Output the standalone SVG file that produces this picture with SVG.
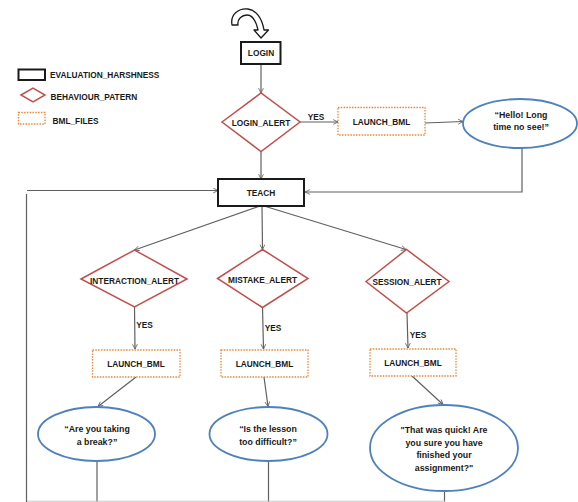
<svg xmlns="http://www.w3.org/2000/svg" width="578" height="502" viewBox="0 0 578 502">
<defs>
<marker id="arr" viewBox="0 0 10 10" refX="9" refY="5" markerWidth="6" markerHeight="6" orient="auto" markerUnits="userSpaceOnUse">
<path d="M1,1 L9,5 L1,9" fill="none" stroke="#606060" stroke-width="1.4"/>
</marker>
<style>
text{font-family:"Liberation Sans",Arial,sans-serif;font-weight:bold;font-size:8.3px;fill:#1a1a1a;text-anchor:middle}
.lg{text-anchor:start}
.mt{font-size:8.8px}
.eh{fill:#fff;stroke:#1a1a1a;stroke-width:2}
.bp{fill:#fff;stroke:#c0504d;stroke-width:1.5}
.bml{fill:#fff;stroke:#e9893b;stroke-width:1.3;stroke-dasharray:1.5 1.3}
.msg{fill:#fff;stroke:#4f81bd;stroke-width:1.8}
.c{fill:none;stroke:#606060;stroke-width:1.2}
.ca{fill:none;stroke:#606060;stroke-width:1.2;marker-end:url(#arr)}
</style>
</defs>
<rect width="578" height="502" fill="#fff"/>

<g id="legend">
<rect class="eh" x="18.5" y="69.5" width="26.5" height="10.5" stroke-width="1.6"/>
<text class="lg" x="50" y="78">EVALUATION_HARSHNESS</text>
<polygon class="bp" points="21,95 33,88 45,95 33,102"/>
<text class="lg" x="50.5" y="100">BEHAVIOUR_PATERN</text>
<rect class="bml" x="18.5" y="112.5" width="26.5" height="11.5"/>
<text class="lg" x="52.5" y="124">BML_FILES</text>
</g>

<g id="start">
<path d="M232,25 C230,14 239,8 248,9 C256,10 262,18 264,30 L268.5,30 L261,38 L254,30 L258,30 C256,21 252,15 247,15 C242,15 237,19 238,25 Z" fill="#fff" stroke="#1a1a1a" stroke-width="1.3" stroke-linejoin="round"/>
</g>

<g id="connectors">
<line class="ca" x1="261" y1="64" x2="261" y2="93"/>
<line class="ca" x1="300" y1="122" x2="338" y2="122"/>
<line class="ca" x1="425" y1="123" x2="463" y2="121.5"/>
<polyline class="ca" points="522,148 522,192 305,192"/>
<line class="ca" x1="261" y1="151.5" x2="261" y2="179"/>
<line class="ca" x1="27" y1="190.5" x2="218" y2="190.5"/>
<line class="c" x1="26.5" y1="194" x2="26.5" y2="502"/>
<line class="ca" x1="260" y1="206" x2="134.5" y2="250"/>
<line class="ca" x1="262" y1="206" x2="262.5" y2="249.5"/>
<line class="ca" x1="264" y1="206" x2="406" y2="249.5"/>
<line class="ca" x1="134.5" y1="307" x2="135" y2="349"/>
<line class="ca" x1="262.5" y1="307.5" x2="263.5" y2="349"/>
<line class="ca" x1="407" y1="313" x2="408" y2="348"/>
<line class="ca" x1="136" y1="377" x2="98" y2="406.5"/>
<line class="ca" x1="264" y1="377" x2="268" y2="406.5"/>
<line class="ca" x1="412" y1="376" x2="443" y2="404.5"/>
<line class="c" x1="97" y1="461" x2="97" y2="502" stroke="#808080" stroke-width="1.8"/>
<line class="c" x1="268.5" y1="461" x2="268.5" y2="502"/>
<line class="c" x1="444.5" y1="491" x2="444.5" y2="502"/>
<line x1="27" y1="501.2" x2="445" y2="501.2" stroke="#c8c8c8" stroke-width="1"/>
<text x="316" y="119.5">YES</text>
<text x="144.5" y="328">YES</text>
<text x="273" y="331">YES</text>
<text x="418" y="337.5">YES</text>
</g>

<g id="login">
<rect class="eh" x="241" y="42" width="39.5" height="22"/>
<text x="261" y="56">LOGIN</text>
</g>

<g id="login_alert">
<polygon class="bp" points="222,122 261,93 300,122 261,151.5"/>
<text x="261" y="125.5">LOGIN_ALERT</text>
</g>

<g id="launch_bml_login">
<rect class="bml" x="338" y="107.5" width="87" height="27.5"/>
<text x="381.5" y="124.5">LAUNCH_BML</text>
</g>

<g id="msg_hello">
<ellipse class="msg" cx="520" cy="123.5" rx="57" ry="24.5"/>
<text class="mt" x="521" y="118">“Hello! Long</text>
<text class="mt" x="521" y="130">time no see!”</text>
</g>

<g id="teach">
<rect class="eh" x="218" y="179" width="86" height="27"/>
<text x="261" y="195.5">TEACH</text>
</g>

<g id="interaction_alert">
<polygon class="bp" points="81,279 134.5,250 187,279 134.5,307"/>
<text x="134.5" y="283.5">INTERACTION_ALERT</text>
</g>

<g id="mistake_alert">
<polygon class="bp" points="217.5,278.5 262.5,249.5 308,278.5 262.5,307.5"/>
<text x="262.5" y="283">MISTAKE_ALERT</text>
</g>

<g id="session_alert">
<polygon class="bp" points="366,281.5 406.5,249.5 449,281.5 406.5,313"/>
<text x="407" y="285">SESSION_ALERT</text>
</g>

<g id="launch_bml_1">
<rect class="bml" x="92.5" y="350" width="87.5" height="27"/>
<text x="136" y="366.5">LAUNCH_BML</text>
</g>

<g id="launch_bml_2">
<rect class="bml" x="221" y="350" width="87" height="27"/>
<text x="264.5" y="366.5">LAUNCH_BML</text>
</g>

<g id="launch_bml_3">
<rect class="bml" x="370" y="349" width="86" height="27"/>
<text x="413" y="365.5">LAUNCH_BML</text>
</g>

<g id="msg_break">
<ellipse class="msg" cx="96.5" cy="434" rx="58.5" ry="27"/>
<text class="mt" x="97" y="432">“Are you taking</text>
<text class="mt" x="97" y="444.5">a break?”</text>
</g>

<g id="msg_difficult">
<ellipse class="msg" cx="268.5" cy="434" rx="59" ry="27"/>
<text class="mt" x="268" y="431.5">“Is the lesson</text>
<text class="mt" x="268" y="444.5">too difficult?”</text>
</g>

<g id="msg_quick">
<ellipse class="msg" cx="444" cy="448" rx="74" ry="43"/>
<text class="mt" x="444" y="433">"That was quick! Are</text>
<text class="mt" x="444" y="445.5">you sure you have</text>
<text class="mt" x="444" y="458">finished your</text>
<text class="mt" x="444" y="470.5">assignment?"</text>
</g>
</svg>
